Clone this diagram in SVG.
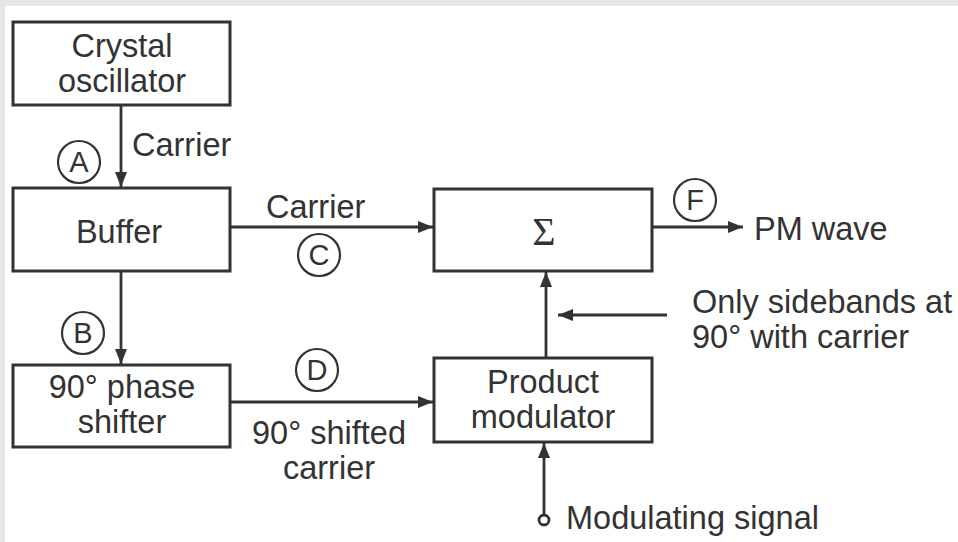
<svg xmlns="http://www.w3.org/2000/svg" width="958" height="542" viewBox="0 0 958 542">
<defs>
<style>
.box{fill:#fff;stroke:#333;stroke-width:3}
.ln{fill:none;stroke:#333;stroke-width:2.8}
.t{font-family:"Liberation Sans",Arial,sans-serif;font-size:32.5px;fill:#333}
.c{fill:none;stroke:#333;stroke-width:2.2}
.ct{font-family:"Liberation Sans",Arial,sans-serif;font-size:29px;fill:#333;text-anchor:middle}
.m{text-anchor:middle}
</style>
<marker id="ah" markerWidth="16" markerHeight="12" refX="15" refY="6" orient="auto" markerUnits="userSpaceOnUse">
<path d="M0,0 L15,6 L0,12 Z" fill="#333"/>
</marker>
</defs>
<rect x="0" y="0" width="958" height="542" fill="#fff"/>
<rect x="0" y="0" width="958" height="6" fill="#e6e6e6"/>
<rect x="0" y="0" width="5" height="542" fill="#e6e6e6"/>

<g id="connectors">
<line class="ln" x1="121" y1="105" x2="121" y2="187" marker-end="url(#ah)"/>
<line class="ln" x1="121" y1="271" x2="121" y2="364" marker-end="url(#ah)"/>
<line class="ln" x1="230" y1="227" x2="433" y2="227" marker-end="url(#ah)"/>
<line class="ln" x1="230" y1="402" x2="433" y2="402" marker-end="url(#ah)"/>
<line class="ln" x1="652" y1="227" x2="743" y2="227" marker-end="url(#ah)"/>
<line class="ln" x1="546" y1="358" x2="546" y2="272" marker-end="url(#ah)"/>
<line class="ln" x1="667" y1="315" x2="558" y2="315" marker-end="url(#ah)"/>
<line class="ln" x1="544" y1="515" x2="544" y2="443" marker-end="url(#ah)"/>
<circle cx="544" cy="520" r="5" fill="#fff" stroke="#333" stroke-width="2.8"/>
</g>

<g id="crystal-oscillator">
<rect class="box" x="13" y="22" width="217" height="83"/>
<text class="t m" x="122" y="57">Crystal</text>
<text class="t m" x="122" y="92">oscillator</text>
</g>
<g id="buffer">
<rect class="box" x="13" y="188" width="217" height="83"/>
<text class="t m" x="119" y="243">Buffer</text>
</g>
<g id="phase-shifter">
<rect class="box" x="13" y="365" width="217" height="82"/>
<text class="t m" x="122" y="398">90° phase</text>
<text class="t m" x="122" y="433">shifter</text>
</g>
<g id="sum">
<rect class="box" x="434" y="189" width="218" height="82"/>
<text x="544" y="245" font-family="'Liberation Serif','Times New Roman',serif" font-size="40" fill="#333" text-anchor="middle">Σ</text>
</g>
<g id="product-modulator">
<rect class="box" x="434" y="358" width="218" height="84"/>
<text class="t m" x="543" y="393">Product</text>
<text class="t m" x="543" y="428">modulator</text>
</g>

<g id="labels">
<text class="t" x="132" y="156">Carrier</text>
<text class="t" x="266" y="218">Carrier</text>
<text class="t m" x="329" y="444">90° shifted</text>
<text class="t m" x="329" y="479">carrier</text>
<text class="t" x="754" y="240">PM wave</text>
<text class="t" x="692" y="313">Only sidebands at</text>
<text class="t" x="692" y="348">90° with carrier</text>
<text class="t" x="566" y="529">Modulating signal</text>
</g>

<g id="markers">
<circle class="c" cx="79" cy="162" r="21"/><text class="ct" x="79" y="172">A</text>
<circle class="c" cx="83" cy="333" r="21"/><text class="ct" x="83" y="343">B</text>
<circle class="c" cx="319" cy="255" r="21"/><text class="ct" x="319" y="265">C</text>
<circle class="c" cx="317" cy="370" r="21"/><text class="ct" x="317" y="380">D</text>
<circle class="c" cx="695" cy="200" r="21"/><text class="ct" x="695" y="210">F</text>
</g>
</svg>
